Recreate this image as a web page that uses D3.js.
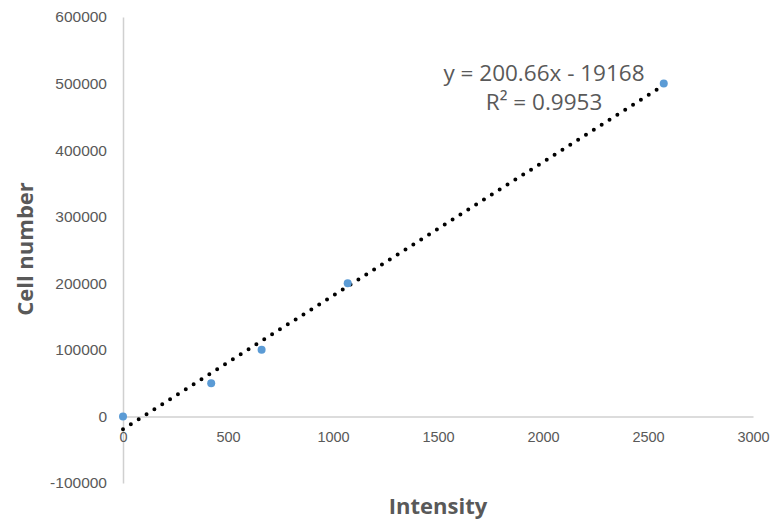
<!DOCTYPE html>
<html>
<head>
<meta charset="utf-8">
<script src="https://cdn.jsdelivr.net/npm/d3@7"></script>
<style>
  html, body { margin: 0; padding: 0; background: #fff; }
  svg { display: block; font-family: "Open Sans", sans-serif; }
</style>
</head>
<body>
<div id="chart"></div>
<script>
const width = 777;
const height = 524;

// Data
const intensity = [0, 420, 660, 1070, 2575];
const cellNumber = [0, 50000, 100000, 200000, 500000];
const xTicks = [0, 500, 1000, 1500, 2000, 2500, 3000];
const yTicks = [-100000, 0, 100000, 200000, 300000, 400000, 500000, 600000];
const slope = 200.66;
const intercept = -19168;
const equationLines = ["y = 200.66x - 19168", "R² = 0.9953"];

const svg = d3.select("#chart")
    .append("svg")
    .attr("width", width)
    .attr("height", height);

const x = d3.scaleLinear().domain([0, 3000]).range([123, 753]);
const y = d3.scaleLinear().domain([-100000, 600000]).range([483, 17]);

// plain hyphen for negatives, like Excel
const fmt = d => String(d);

// Y axis
const yAxis = svg.append("g")
    .attr("transform", `translate(${x(0)},0)`)
    .call(d3.axisLeft(y).tickValues(yTicks).tickSize(0).tickPadding(16).tickFormat(fmt));
yAxis.select(".domain").attr("stroke", "#d0d0d0").attr("stroke-width", 1.5);
yAxis.selectAll("text").attr("fill", "#595959").style("font-size", "15.5px");

// X axis at y = 0
const xAxis = svg.append("g")
    .attr("transform", `translate(0,${y(0)})`)
    .call(d3.axisBottom(x).tickValues(xTicks).tickSize(0).tickPadding(15).tickFormat(fmt));
xAxis.select(".domain").attr("stroke", "#d0d0d0").attr("stroke-width", 1.5);
xAxis.selectAll("text").attr("fill", "#595959").style("font-size", "14.5px");

// Linear trendline (dotted)
const trendX = [0, d3.max(intensity)];
svg.append("line")
    .attr("x1", x(trendX[0]))
    .attr("y1", y(slope * trendX[0] + intercept))
    .attr("x2", x(trendX[1]))
    .attr("y2", y(slope * trendX[1] + intercept))
    .attr("stroke", "#000")
    .attr("stroke-width", 4)
    .attr("stroke-linecap", "round")
    .attr("stroke-dasharray", "0 9.3");

// Points
svg.append("g")
    .selectAll("circle")
    .data(intensity)
    .join("circle")
    .attr("cx", d => x(d))
    .attr("cy", (d, i) => y(cellNumber[i]))
    .attr("r", 4)
    .attr("fill", "#5b9bd5");

// Equation label
svg.append("g")
    .selectAll("text")
    .data(equationLines)
    .join("text")
    .attr("x", 544)
    .attr("y", (d, i) => 81 + i * 29)
    .attr("text-anchor", "middle")
    .attr("fill", "#595959")
    .style("font-size", "22.5px")
    .text(d => d);

// Axis titles
svg.append("text")
    .attr("transform", "translate(33,249) rotate(-90)")
    .attr("text-anchor", "middle")
    .attr("fill", "#595959")
    .style("font-size", "22px")
    .style("font-weight", "bold")
    .text("Cell number");

svg.append("text")
    .attr("x", 438)
    .attr("y", 514)
    .attr("text-anchor", "middle")
    .attr("fill", "#595959")
    .style("font-size", "22px")
    .style("font-weight", "bold")
    .text("Intensity");
</script>
</body>
</html>
